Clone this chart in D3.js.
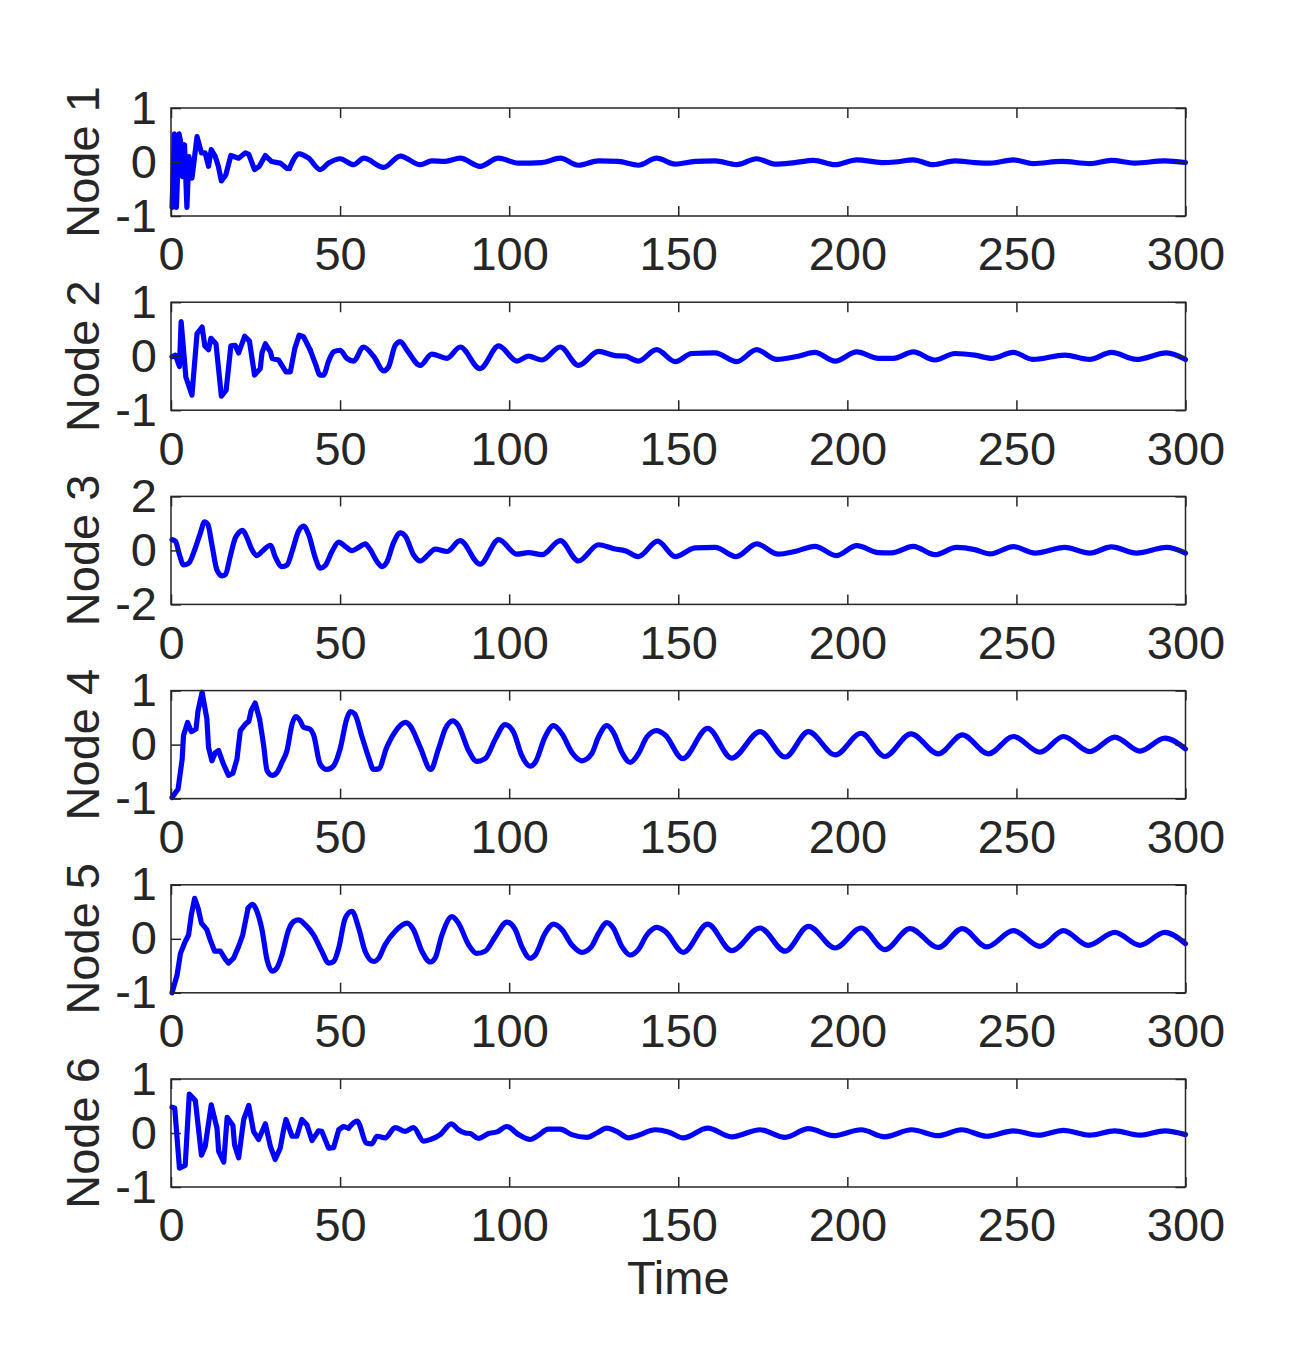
<!DOCTYPE html>
<html>
<head>
<meta charset="utf-8">
<script src="https://cdn.jsdelivr.net/npm/d3@7"></script>
<style>
  body { margin: 0; background: #fff; }
  svg text { font-family: "Liberation Sans", Arial, Helvetica, sans-serif; fill: #262626; }
</style>
</head>
<body>
<svg id="chart" width="1311" height="1363"></svg>
<script>
// [time, value] pairs
const node1 = [[0.3,-0.84],[1.0,0.52],[1.6,-0.84],[2.4,0.52],[3.0,0.32],[3.4,-0.27],[4.0,0.32],[4.7,-0.84],[5.3,0.1],[6.2,-0.3],[7.7,0.47],[9.0,0.17],[10.1,0.17],[11.1,-0.08],[11.9,0.23],[13.1,0.1],[14.0,-0.08],[14.9,-0.35],[16.2,-0.24],[17.7,0.12],[20.0,0.07],[22.0,0.17],[23.0,0.14],[24.7,-0.14],[26.1,-0.08],[27.9,0.12],[29.7,0.01],[32.3,-0.02],[34.3,-0.12],[35.0,-0.12],[37.9,0.15],[40.7,0.07],[44.1,-0.14],[46.6,-0.02],[50.0,0.06],[54.0,-0.05],[57.0,0.07],[62.9,-0.1],[67.8,0.11],[73.7,-0.05],[77.1,0.02],[81.1,0.01],[85.5,0.07],[91.4,-0.08],[96.8,0.07],[102.7,-0.02],[109.7,-0.01],[115.1,0.07],[120.5,-0.06],[126.4,0.02],[132.3,0.01],[138.2,-0.06],[143.6,0.07],[149.1,-0.04],[155.0,0.01],[160.9,0.02],[167.3,-0.05],[173.2,0.06],[178.6,-0.04],[184.5,-0.01],[190.0,0.03],[196.4,-0.05],[202.8,0.04],[210.2,-0.01],[214.1,0.0],[219.5,0.04],[225.4,-0.05],[231.8,0.02],[237.7,-0.01],[242.2,-0.02],[249.1,0.04],[255.0,-0.03],[263.4,0.01],[271.7,-0.03],[278.1,0.03],[285.0,-0.02],[293.9,0.02],[300,-0.01]];

const node2 = [[0.3,-0.01],[1.3,0.02],[2.5,-0.19],[3.0,0.64],[4.4,-0.39],[6.2,-0.72],[7.7,0.42],[9.2,0.54],[10.0,0.19],[11.1,0.12],[11.8,0.33],[13.3,0.23],[14.9,-0.74],[16.3,-0.63],[17.7,0.19],[19.0,0.2],[20.0,0.06],[21.8,0.37],[23.2,0.28],[24.7,-0.35],[26.4,-0.23],[26.9,0.06],[27.9,0.23],[29.4,0.08],[29.9,-0.04],[31.8,-0.07],[32.8,-0.17],[34.0,-0.29],[35.3,-0.29],[36.6,0.14],[37.9,0.39],[39.2,0.36],[41.2,0.11],[42.7,-0.14],[44.1,-0.35],[45.1,-0.35],[46.6,-0.09],[48.1,0.08],[50.0,0.11],[52.0,-0.04],[54.0,-0.09],[56.9,0.17],[59.9,0.0],[62.9,-0.27],[64.3,-0.2],[66.3,0.2],[67.8,0.27],[69.8,0.11],[73.7,-0.17],[77.1,0.04],[81.6,-0.04],[85.5,0.17],[91.4,-0.23],[96.9,0.19],[102.3,-0.09],[105.7,0.0],[109.7,-0.07],[115.1,0.17],[120.5,-0.17],[126.4,0.09],[131.3,0.01],[134.3,0.0],[138.2,-0.09],[143.6,0.12],[149.1,-0.1],[154.0,0.05],[160.9,0.06],[167.3,-0.1],[173.2,0.12],[179.1,-0.06],[185.5,0.0],[190.4,0.07],[196.4,-0.09],[202.8,0.08],[209.2,-0.04],[213.6,-0.04],[219.5,0.08],[225.9,-0.07],[231.8,0.05],[237.7,0.02],[242.7,-0.04],[249.1,0.07],[255.0,-0.06],[264.3,0.02],[271.7,-0.06],[278.1,0.07],[285.5,-0.06],[294.4,0.06],[300,-0.06]];

const node3 = [[0.3,0.4],[1.3,0.34],[2.5,-0.16],[3.7,-0.54],[5.2,-0.48],[7.2,0.09],[8.7,0.65],[9.9,1.06],[10.9,0.96],[12.1,0.21],[13.6,-0.73],[15.1,-0.94],[16.1,-0.89],[17.5,-0.23],[19.0,0.46],[20.0,0.65],[21.2,0.74],[22.5,0.46],[23.9,0.03],[25.4,-0.19],[26.9,-0.04],[29.4,0.19],[30.8,-0.23],[32.8,-0.6],[34.3,-0.54],[35.8,-0.04],[37.7,0.71],[39.2,0.9],[40.7,0.59],[42.7,-0.29],[44.1,-0.66],[45.6,-0.56],[47.6,-0.04],[49.6,0.31],[51.5,0.15],[53.5,-0.01],[55.5,0.11],[57.4,0.24],[58.9,0.03],[60.9,-0.41],[62.4,-0.6],[63.8,-0.44],[65.8,0.28],[67.8,0.65],[69.3,0.53],[71.7,-0.16],[73.7,-0.39],[76.2,-0.14],[78.1,0.05],[81.6,-0.04],[85.5,0.36],[91.4,-0.51],[96.9,0.4],[102.3,-0.14],[105.7,-0.08],[109.7,-0.16],[115.1,0.36],[120.5,-0.39],[126.4,0.21],[131.3,0.05],[134.3,-0.01],[138.2,-0.23],[143.9,0.34],[149.1,-0.23],[155.0,0.09],[160.9,0.11],[167.1,-0.23],[173.2,0.24],[179.6,-0.14],[184.5,-0.04],[190.4,0.15],[196.7,-0.19],[202.8,0.18],[209.2,-0.08],[213.1,-0.09],[219.5,0.15],[225.9,-0.16],[232.3,0.11],[237.7,0.03],[242.2,-0.13],[249.1,0.14],[255.5,-0.1],[264.3,0.11],[271.7,-0.1],[278.1,0.13],[285.5,-0.1],[294.4,0.11],[300,-0.1]];

const node4 = [[0.3,-0.98],[2.1,-0.82],[3.3,-0.27],[3.7,0.17],[4.9,0.41],[6.0,0.24],[7.4,0.29],[8.0,0.63],[9.2,0.97],[10.6,0.48],[11.1,-0.05],[12.1,-0.3],[13.1,-0.15],[14.1,-0.11],[15.3,-0.33],[17.0,-0.57],[18.3,-0.53],[19.5,-0.27],[20.5,0.26],[22.0,0.38],[23.0,0.43],[23.7,0.63],[24.9,0.77],[26.2,0.47],[27.4,-0.02],[28.4,-0.48],[29.9,-0.57],[31.3,-0.52],[32.8,-0.33],[34.3,-0.11],[35.8,0.38],[36.9,0.52],[38.2,0.44],[39.2,0.32],[41.0,0.29],[42.2,0.17],[44.1,-0.36],[46.1,-0.46],[48.1,-0.39],[50.0,-0.08],[52.0,0.48],[53.0,0.61],[54.3,0.57],[56.5,0.14],[58.4,-0.23],[59.9,-0.46],[61.4,-0.45],[63.8,-0.05],[66.3,0.24],[69.3,0.41],[70.7,0.35],[73.7,-0.05],[76.8,-0.46],[79.1,-0.08],[81.1,0.29],[83.3,0.44],[85.0,0.35],[88.0,-0.11],[90.4,-0.31],[92.9,-0.26],[95.9,0.1],[98.8,0.37],[101.3,0.23],[103.7,-0.2],[106.2,-0.4],[107.7,-0.33],[110.6,0.14],[113.1,0.35],[115.6,0.2],[118.5,-0.14],[121.5,-0.3],[124.4,-0.17],[126.4,0.14],[128.9,0.35],[130.8,0.23],[133.3,-0.14],[135.8,-0.33],[138.2,-0.17],[140.7,0.14],[143.6,0.26],[146.1,0.18],[151.3,-0.26],[158.7,0.3],[165.8,-0.25],[174.2,0.24],[181.6,-0.23],[188.5,0.24],[196.4,-0.19],[204.1,0.21],[211.1,-0.22],[218.8,0.2],[226.9,-0.17],[234.0,0.18],[241.7,-0.17],[249.1,0.15],[257.0,-0.14],[263.9,0.15],[271.7,-0.13],[279.1,0.14],[286.5,-0.12],[293.9,0.12],[300,-0.08]];

const node5 = [[0.3,-1.0],[1.8,-0.67],[2.8,-0.27],[4.2,-0.05],[5.2,0.07],[6.0,0.44],[7.0,0.75],[8.0,0.57],[9.0,0.29],[10.6,0.17],[11.6,-0.02],[12.9,-0.23],[14.6,-0.23],[16.1,-0.38],[17.0,-0.45],[18.5,-0.36],[20.0,-0.14],[21.2,0.07],[22.8,0.57],[24.1,0.64],[25.4,0.51],[26.9,0.17],[28.4,-0.39],[29.9,-0.6],[31.3,-0.54],[32.8,-0.3],[34.8,0.17],[36.3,0.32],[37.7,0.35],[39.7,0.26],[42.2,0.07],[44.6,-0.23],[46.6,-0.45],[48.1,-0.42],[49.6,-0.17],[51.5,0.38],[53.5,0.51],[55.5,0.2],[57.4,-0.23],[59.9,-0.42],[61.4,-0.36],[63.3,-0.11],[66.3,0.14],[69.8,0.29],[71.7,0.17],[74.2,-0.23],[76.7,-0.43],[78.1,-0.36],[80.1,0.07],[83.1,0.41],[85.0,0.29],[88.0,-0.11],[90.4,-0.27],[92.9,-0.23],[95.9,0.04],[99.3,0.31],[101.8,0.17],[103.7,-0.14],[106.2,-0.36],[107.7,-0.3],[110.6,0.1],[113.1,0.27],[115.6,0.17],[118.5,-0.11],[121.5,-0.25],[124.4,-0.14],[126.4,0.1],[128.9,0.3],[130.8,0.2],[133.3,-0.14],[135.8,-0.3],[138.2,-0.2],[140.7,0.07],[143.6,0.21],[146.1,0.14],[151.5,-0.25],[158.7,0.27],[165.8,-0.22],[174.2,0.2],[181.6,-0.23],[188.5,0.23],[196.4,-0.17],[204.1,0.2],[211.1,-0.2],[218.5,0.19],[226.9,-0.16],[234.0,0.19],[241.2,-0.15],[249.1,0.15],[257.0,-0.14],[263.9,0.15],[271.2,-0.12],[279.1,0.12],[286.5,-0.12],[293.9,0.12],[300,-0.09]];

const node6 = [[0.3,0.48],[1.1,0.46],[2.5,-0.65],[4.2,-0.6],[5.4,0.72],[7.2,0.6],[9.0,-0.41],[10.1,-0.25],[11.9,0.52],[13.6,0.09],[14.1,-0.34],[15.6,-0.54],[16.6,0.29],[18.3,0.14],[18.8,-0.22],[20.0,-0.46],[21.5,0.25],[23.0,0.51],[24.4,0.03],[25.9,-0.12],[27.9,0.17],[29.4,-0.25],[30.8,-0.49],[32.3,-0.28],[33.3,0.06],[34.0,0.25],[35.8,-0.06],[37.2,-0.06],[38.7,0.25],[40.2,0.15],[41.7,-0.14],[43.6,0.04],[44.6,0.03],[46.6,-0.28],[48.1,-0.27],[49.6,0.06],[51.0,0.12],[52.5,0.09],[55.0,0.22],[57.9,-0.19],[59.4,-0.2],[60.9,-0.06],[63.3,-0.09],[66.3,0.1],[69.3,0.03],[71.7,0.1],[74.7,-0.15],[76.7,-0.12],[79.6,-0.03],[82.9,0.17],[85.0,0.06],[87.0,0.0],[88.5,-0.01],[90.9,-0.1],[93.9,-0.01],[96.4,0.02],[99.3,0.12],[102.8,-0.03],[106.2,-0.12],[108.2,-0.06],[111.6,0.07],[115.1,0.07],[118.5,-0.03],[123.0,-0.08],[125.9,0.0],[128.9,0.09],[131.8,0.03],[135.3,-0.09],[138.2,-0.04],[143.2,0.06],[147.1,0.02],[151.5,-0.09],[158.7,0.09],[165.8,-0.07],[174.2,0.06],[181.6,-0.08],[188.5,0.08],[195.9,-0.05],[204.1,0.06],[211.1,-0.07],[219.0,0.06],[226.9,-0.05],[233.8,0.06],[241.2,-0.06],[249.1,0.04],[256.5,-0.04],[263.9,0.05],[271.7,-0.04],[279.1,0.04],[286.5,-0.04],[293.9,0.04],[300,-0.03]];

const series = [node1, node2, node3, node4, node5, node6];
const nodeNames = ['Node 1', 'Node 2', 'Node 3', 'Node 4', 'Node 5', 'Node 6'];
const yDomains = [[-1, 1], [-1, 1], [-2, 2], [-1, 1], [-1, 1], [-1, 1]];
const yTickValues = [[-1, 0, 1], [-1, 0, 1], [-2, 0, 2], [-1, 0, 1], [-1, 0, 1], [-1, 0, 1]];
const xTicks = [0, 50, 100, 150, 200, 250, 300];
const xLabel = 'Time';
// the early, jagged stretch of each trace is drawn as straight segments
const jaggedUntil = [35.0, 41.2, 0, 26.2, 22.8, 52.5];

// layout (px)
const left = 171, right = 1185.5;
const firstTop = 108, step = 194.2, panelH = 108;
const fontSize = 47, tickLen = 10, axisColor = '#262626';

const svg = d3.select('#chart');
const x = d3.scaleLinear().domain([0, 300]).range([left, right]);

series.forEach((data, i) => {
    const top = firstTop + i * step;
    const bottom = top + panelH;
    const y = d3.scaleLinear().domain(yDomains[i]).range([bottom, top]);
    const g = svg.append('g');

    const cut = jaggedUntil[i];
    const rough = data.filter(d => d[0] <= cut);
    const smooth = cut > 0 ? data.filter(d => d[0] >= cut) : data;
    const lineStraight = d3.line().x(d => x(d[0])).y(d => y(d[1]));
    const lineSmooth = d3.line().x(d => x(d[0])).y(d => y(d[1])).curve(d3.curveMonotoneX);

    [[rough, lineStraight], [smooth, lineSmooth]].forEach(([pts, gen]) => {
        if (pts.length < 2) return;
        g.append('path').datum(pts)
            .attr('d', gen)
            .attr('fill', 'none')
            .attr('stroke', '#0000FF')
            .attr('stroke-width', 5.2)
            .attr('stroke-linejoin', 'round')
            .attr('stroke-linecap', 'round');
    });

    const fmt = d => String(d);
    // bottom axis with labels
    g.append('g').attr('transform', `translate(0,${bottom})`)
        .call(d3.axisBottom(x).tickValues(xTicks).tickFormat(fmt).tickSizeInner(-tickLen).tickSizeOuter(0).tickPadding(21));
    // top mirror ticks
    g.append('g').attr('transform', `translate(0,${top})`)
        .call(d3.axisTop(x).tickValues(xTicks).tickFormat('').tickSizeInner(-tickLen).tickSizeOuter(0));
    // left axis with labels
    g.append('g').attr('transform', `translate(${left},0)`)
        .call(d3.axisLeft(y).tickValues(yTickValues[i]).tickFormat(fmt).tickSizeInner(-tickLen).tickSizeOuter(0).tickPadding(14));
    // right mirror ticks
    g.append('g').attr('transform', `translate(${right},0)`)
        .call(d3.axisRight(y).tickValues(yTickValues[i]).tickFormat('').tickSizeInner(-tickLen).tickSizeOuter(0));

    g.selectAll('.domain').remove();
    g.selectAll('.tick line').attr('stroke', axisColor).attr('stroke-width', 1.5);
    g.selectAll('.tick text').attr('font-size', fontSize).attr('font-family', null).style('fill', axisColor);

    // box
    g.append('rect')
        .attr('x', left).attr('y', top)
        .attr('width', right - left).attr('height', panelH)
        .attr('fill', 'none').attr('stroke', axisColor).attr('stroke-width', 1.5);

    // y label
    g.append('text')
        .attr('transform', `translate(99,${(top + bottom) / 2}) rotate(-90)`)
        .attr('text-anchor', 'middle')
        .attr('font-size', fontSize)
        .text(nodeNames[i]);
});

// x label
svg.append('text')
    .attr('x', (left + right) / 2)
    .attr('y', 1294)
    .attr('text-anchor', 'middle')
    .attr('font-size', fontSize)
    .text(xLabel);
</script>
</body>
</html>
